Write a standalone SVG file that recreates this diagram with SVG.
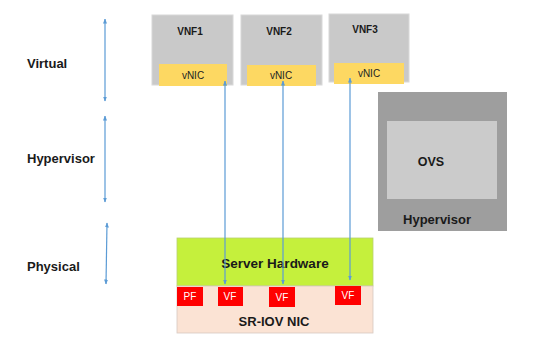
<svg xmlns="http://www.w3.org/2000/svg" width="544" height="343" viewBox="0 0 544 343">
<defs>
<style>
.lbl{font-family:"Liberation Sans",Arial,sans-serif;font-weight:bold;fill:#1a1a1a}
.vnf{fill:#c9c9c9;stroke:#d8d8d8;stroke-width:1}
.vnic{fill:#fdd862}
.vf{fill:#ff0000}
.vft{font-family:"Liberation Sans",Arial,sans-serif;font-size:10px;fill:#ffffff}
.conn{stroke:#5b9bd5;stroke-width:1.2;fill:none}
</style>
<marker id="ah" viewBox="0 0 10 10" refX="9" refY="5" markerWidth="5" markerHeight="5" orient="auto-start-reverse" markerUnits="userSpaceOnUse">
<path d="M0,1 L10,5 L0,9 z" fill="#5b9bd5"/>
</marker>
</defs>
<rect width="544" height="343" fill="#ffffff"/>

<g id="label-virtual"><text class="lbl" x="27" y="68" font-size="13">Virtual</text></g>
<g id="label-hypervisor"><text class="lbl" x="27" y="163" font-size="13">Hypervisor</text></g>
<g id="label-physical"><text class="lbl" x="27" y="271" font-size="13">Physical</text></g>

<g id="vnf1">
<rect class="vnf" x="152" y="15" width="81" height="70"/>
<text class="lbl" x="190" y="35" font-size="10" text-anchor="middle">VNF1</text>
<rect class="vnic" x="159" y="64" width="68" height="22"/>
<text x="193" y="79" font-size="10" text-anchor="middle" font-family="Liberation Sans,Arial,sans-serif" fill="#222">vNIC</text>
</g>
<g id="vnf2">
<rect class="vnf" x="241" y="15" width="81" height="70"/>
<text class="lbl" x="279" y="35" font-size="10" text-anchor="middle">VNF2</text>
<rect class="vnic" x="247" y="65" width="69" height="21"/>
<text x="281" y="79" font-size="10" text-anchor="middle" font-family="Liberation Sans,Arial,sans-serif" fill="#222">vNIC</text>
</g>
<g id="vnf3">
<rect class="vnf" x="329" y="14" width="80" height="68"/>
<text class="lbl" x="365" y="33" font-size="10" text-anchor="middle">VNF3</text>
<rect class="vnic" x="334" y="63" width="70" height="21"/>
<text x="369" y="77" font-size="10" text-anchor="middle" font-family="Liberation Sans,Arial,sans-serif" fill="#222">vNIC</text>
</g>

<g id="hypervisor">
<rect x="378" y="92" width="129" height="139" fill="#9e9e9e"/>
<rect x="387" y="121" width="110" height="78" fill="#cbcbcb"/>
<text class="lbl" x="431" y="166" font-size="12.5" text-anchor="middle">OVS</text>
<text class="lbl" x="437" y="224" font-size="13" text-anchor="middle">Hypervisor</text>
</g>

<g id="server-hardware">
<rect x="177" y="238" width="196" height="48" fill="#c5f03c" stroke="#b8d070" stroke-width="0.8"/>
<text class="lbl" x="275" y="268" font-size="13.5" text-anchor="middle">Server Hardware</text>
</g>
<g id="sriov-nic">
<rect x="177" y="286" width="196" height="47" fill="#fbe3d4" stroke="#d8c8c0" stroke-width="0.8"/>
<text class="lbl" x="274" y="326" font-size="13" text-anchor="middle">SR-IOV NIC</text>
</g>
<g id="pf">
<rect class="vf" x="177" y="287" width="26" height="19"/>
<text class="vft" x="190" y="300" text-anchor="middle">PF</text>
</g>
<g id="vf1">
<rect class="vf" x="218" y="287" width="25" height="19"/>
<text class="vft" x="230" y="300" text-anchor="middle">VF</text>
</g>
<g id="vf2">
<rect class="vf" x="269" y="287" width="26" height="20"/>
<text class="vft" x="282" y="301" text-anchor="middle">VF</text>
</g>
<g id="vf3">
<rect class="vf" x="335" y="286" width="26" height="19"/>
<text class="vft" x="348" y="299" text-anchor="middle">VF</text>
</g>

<g id="connectors">
<line class="conn" x1="105" y1="19" x2="105" y2="101" marker-start="url(#ah)" marker-end="url(#ah)"/>
<line class="conn" x1="105" y1="116" x2="105" y2="202" marker-start="url(#ah)" marker-end="url(#ah)"/>
<line class="conn" x1="107" y1="223" x2="106" y2="284" marker-start="url(#ah)" marker-end="url(#ah)"/>
<line class="conn" x1="225" y1="81" x2="225" y2="284" marker-start="url(#ah)" marker-end="url(#ah)"/>
<line class="conn" x1="283" y1="81" x2="283" y2="284" marker-start="url(#ah)" marker-end="url(#ah)"/>
<line class="conn" x1="350" y1="78" x2="350" y2="280" marker-start="url(#ah)" marker-end="url(#ah)"/>
</g>
</svg>
